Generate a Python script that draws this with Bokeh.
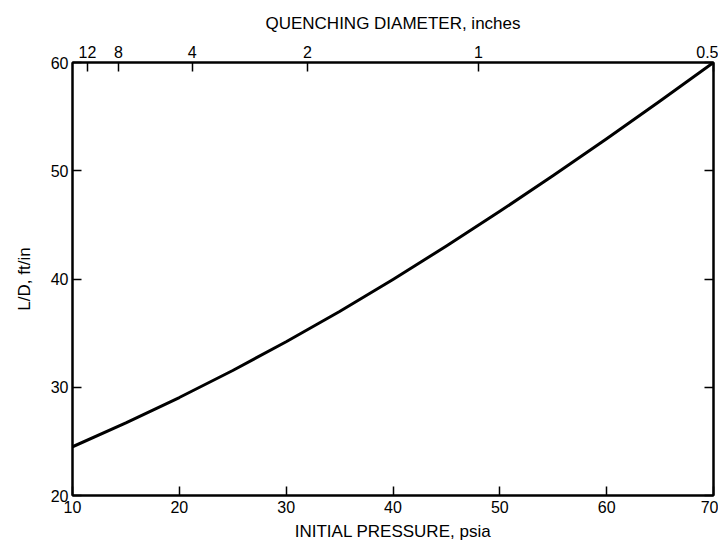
from bokeh.plotting import figure
from bokeh.models import LinearAxis, FixedTicker, Range1d
from bokeh.embed import file_html
from bokeh.resources import INLINE

# Data
pressure_psia = [10, 15, 20, 25, 30, 35, 40, 45, 50, 55, 60, 65, 70]
l_over_d = [24.5, 26.7, 29.05, 31.55, 34.2, 37.0, 39.95, 43.05, 46.25, 49.55, 52.95, 56.45, 60.0]

x_ticks = [10, 20, 30, 40, 50, 60, 70]
y_ticks = [20, 30, 40, 50, 60]

# Quenching diameter scale (top), placed at equivalent initial pressure
quench_diam_labels = ["12", "8", "4", "2", "1", "0.5"]
quench_pos_psia = [11.4, 14.3, 21.2, 32.0, 48.0, 70.0]

FONT = "Liberation Sans"

p = figure(width=718, height=543, output_backend="svg", toolbar_location=None,
           x_range=Range1d(10, 70), y_range=Range1d(20, 60),
           min_border_left=72, min_border_right=5, min_border_top=62, min_border_bottom=43)
p.xgrid.visible = False
p.ygrid.visible = False
p.outline_line_color = "black"
p.outline_line_width = 2
p.background_fill_color = "white"
p.border_fill_color = "white"

p.line(pressure_psia, l_over_d, line_color="black", line_width=3, line_join="round")

def style(ax):
    ax.axis_line_color = "black"
    ax.axis_line_width = 2
    ax.major_tick_in = 9
    ax.major_tick_out = 0
    ax.major_tick_line_width = 1.5
    ax.minor_tick_line_color = None
    ax.major_label_text_font = FONT
    ax.major_label_text_font_size = "16px"
    ax.major_label_text_color = "black"
    ax.major_label_standoff = 3
    ax.axis_label_text_font = FONT
    ax.axis_label_text_font_size = "17px"
    ax.axis_label_text_font_style = "normal"
    ax.axis_label_text_color = "black"

xa = p.xaxis[0]
xa.ticker = FixedTicker(ticks=x_ticks)
xa.axis_label = "INITIAL PRESSURE, psia"
style(xa)
xa.major_label_standoff = 5
xa.axis_label_standoff = 6

ya = p.yaxis[0]
ya.ticker = FixedTicker(ticks=y_ticks)
ya.axis_label = "L/D, ft/in"
style(ya)
ya.major_label_standoff = 4
ya.axis_label_standoff = 14

top = LinearAxis(ticker=FixedTicker(ticks=quench_pos_psia),
                 major_label_overrides={v: l for v, l in zip(quench_pos_psia, quench_diam_labels)},
                 axis_label="QUENCHING DIAMETER, inches")
style(top)
top.major_label_standoff = 5
top.axis_label_standoff = 10
p.add_layout(top, "above")

right = LinearAxis(ticker=FixedTicker(ticks=y_ticks),
                   major_label_overrides={v: "" for v in y_ticks})
style(right)
right.major_label_standoff = 0
p.add_layout(right, "right")

open("out.html", "w").write(file_html(p, INLINE))
